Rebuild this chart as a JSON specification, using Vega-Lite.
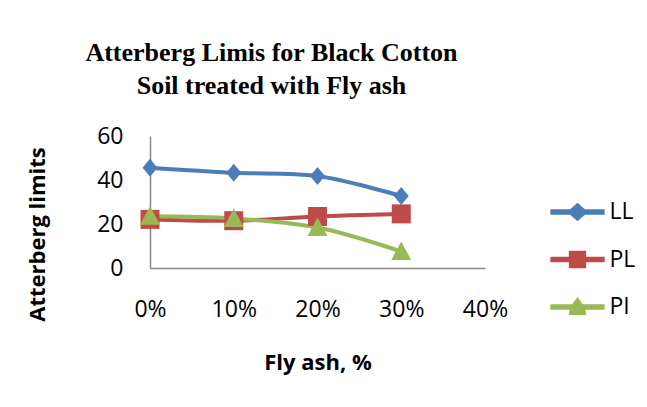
{
  "$schema": "https://vega.github.io/schema/vega-lite/v6.json",
  "width": 335,
  "height": 132,
  "autosize": {"type": "none"},
  "padding": {"left": 150, "top": 136, "right": 162, "bottom": 139},
  "background": "white",
  "title": {
    "text": ["Atterberg Limis for Black Cotton", "Soil treated with Fly ash"],
    "font": "Liberation Serif",
    "fontSize": 26,
    "fontWeight": "bold",
    "lineHeight": 33,
    "color": "#000000",
    "anchor": "middle",
    "dx": -46,
    "offset": 26
  },
  "data": {
    "values": [
      {"fly": 0.0, "series": "LL", "value": 45.6},
      {"fly": 0.1, "series": "LL", "value": 43.3},
      {"fly": 0.2, "series": "LL", "value": 41.8},
      {"fly": 0.3, "series": "LL", "value": 32.7},
      {"fly": 0.0, "series": "PL", "value": 22.1},
      {"fly": 0.1, "series": "PL", "value": 21.5},
      {"fly": 0.2, "series": "PL", "value": 23.4},
      {"fly": 0.3, "series": "PL", "value": 24.6},
      {"fly": 0.0, "series": "PI", "value": 23.5},
      {"fly": 0.1, "series": "PI", "value": 22.5},
      {"fly": 0.2, "series": "PI", "value": 18.4},
      {"fly": 0.3, "series": "PI", "value": 7.5}
    ]
  },
  "encoding": {
    "x": {
      "field": "fly",
      "type": "quantitative",
      "scale": {"domain": [0, 0.4], "nice": false, "zero": false},
      "axis": {
        "values": [0, 0.1, 0.2, 0.3, 0.4],
        "format": ".0%",
        "title": "Fly ash, %",
        "titleY": 94,
        "titleBaseline": "middle",
        "labelPadding": 30,
        "labelFlush": false
      }
    },
    "y": {
      "field": "value",
      "type": "quantitative",
      "scale": {"domain": [0, 60], "nice": false},
      "axis": {
        "values": [0, 20, 40, 60],
        "title": "Atterberg limits",
        "titleX": -113,
        "titleY": 98,
        "titleAngle": 270,
        "titleAlign": "center",
        "titleBaseline": "middle",
        "labelPadding": 27
      }
    },
    "color": {
      "field": "series",
      "type": "nominal",
      "scale": {"domain": ["LL", "PL", "PI"], "range": ["#4A7EBB", "#BE4B48", "#98B954"]},
      "legend": {
        "title": null,
        "orient": "none",
        "legendX": 402.5,
        "legendY": 51,
        "symbolSize": 2304,
        "symbolOpacity": 1,
        "labelOffset": 7,
        "rowPadding": 10.5
      }
    }
  },
  "layer": [
    {
      "mark": {"type": "line", "strokeWidth": 4, "interpolate": "catmull-rom"}
    },
    {
      "transform": [{"filter": "datum.series === 'LL'"}],
      "mark": {"type": "point", "filled": true, "opacity": 1, "size": 400, "shape": "M0,-0.9L0.75,0L0,0.9L-0.75,0Z"}
    },
    {
      "transform": [{"filter": "datum.series === 'PL'"}],
      "mark": {"type": "point", "filled": true, "opacity": 1, "size": 400, "shape": "M-0.95,-0.95H0.95V0.95H-0.95Z"}
    },
    {
      "transform": [{"filter": "datum.series === 'PI'"}],
      "mark": {"type": "point", "filled": true, "opacity": 1, "size": 400, "shape": "M0,-1L1,0.85L-1,0.85Z"}
    },
    {
      "mark": {"type": "point", "filled": true, "opacity": 0, "size": 10},
      "encoding": {
        "shape": {
          "field": "series",
          "type": "nominal",
          "scale": {
            "domain": ["LL", "PL", "PI"],
            "range": [
              "M-1.1,-0.085H-0.3L0,-0.34L0.3,-0.085H1.1V0.085H0.3L0,0.34L-0.3,0.085H-1.1Z",
              "M-1.1,-0.085H-0.33V-0.33H0.33V-0.085H1.1V0.085H0.33V0.33H-0.33V0.085H-1.1Z",
              "M-1.1,-0.085H-0.2L0,-0.36L0.2,-0.085H1.1V0.085H0.29L0.33,0.3H-0.33L-0.29,0.085H-1.1Z"
            ]
          },
          "legend": null
        }
      }
    }
  ],
  "config": {
    "view": {"stroke": null},
    "axis": {
      "grid": false,
      "ticks": false,
      "domainColor": "#868686",
      "domainWidth": 1.5,
      "labelFont": "Open Sans",
      "labelFontSize": 23,
      "labelColor": "#000000",
      "titleFont": "Open Sans",
      "titleFontSize": 22,
      "titleFontWeight": "bold",
      "titleColor": "#000000"
    },
    "legend": {
      "labelFont": "Open Sans",
      "labelFontSize": 23,
      "labelColor": "#000000",
      "padding": 0,
      "rowPadding": 10.5
    }
  }
}
